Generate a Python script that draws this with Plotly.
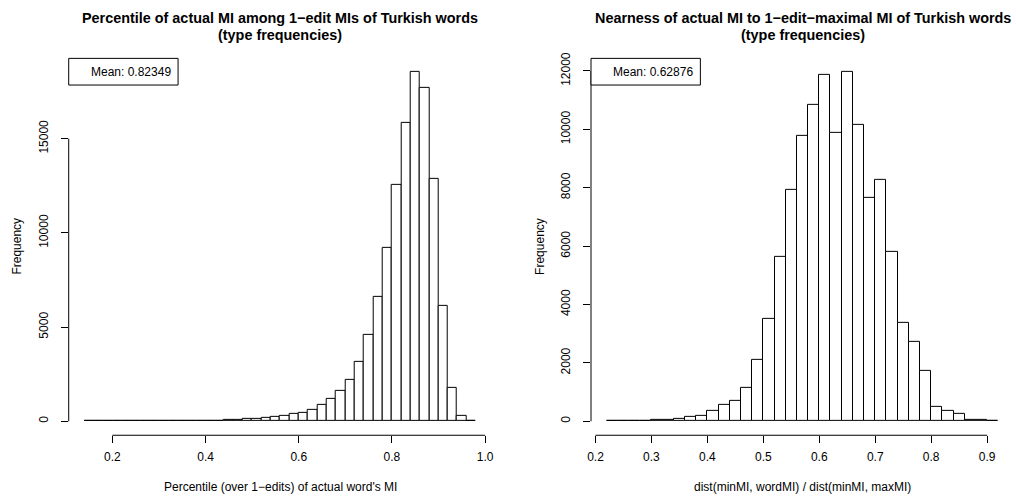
import plotly.graph_objects as go

# ---------------- data ----------------
BIN_WIDTH = 0.02

left_bin_starts = [0.14, 0.16, 0.18, 0.20, 0.22, 0.24, 0.26, 0.28, 0.30, 0.32,
                   0.34, 0.36, 0.38, 0.40, 0.42, 0.44, 0.46, 0.48, 0.50, 0.52,
                   0.54, 0.56, 0.58, 0.60, 0.62, 0.64, 0.66, 0.68, 0.70, 0.72,
                   0.74, 0.76, 0.78, 0.80, 0.82, 0.84, 0.86, 0.88, 0.90, 0.92,
                   0.94, 0.96]
left_counts = [1, 2, 3, 4, 5, 7, 9, 12, 15, 18,
               22, 27, 33, 40, 45, 58, 75, 105, 140, 190,
               210, 295, 370, 460, 600, 880, 1200, 1640, 2200, 3130,
               4590, 6620, 9220, 12540, 15820, 18550, 17700, 12850, 6120, 1760,
               300, 8]

right_bin_starts = [0.22, 0.24, 0.26, 0.28, 0.30, 0.32, 0.34, 0.36, 0.38, 0.40,
                    0.42, 0.44, 0.46, 0.48, 0.50, 0.52, 0.54, 0.56, 0.58, 0.60,
                    0.62, 0.64, 0.66, 0.68, 0.70, 0.72, 0.74, 0.76, 0.78, 0.80,
                    0.82, 0.84, 0.86, 0.88, 0.90]
right_counts = [2, 5, 10, 20, 35, 45, 70, 135, 200, 350,
                550, 710, 1150, 2090, 3500, 5630, 7920, 9790, 10840, 11850,
                9890, 11970, 10160, 7640, 8280, 5800, 3370, 2730, 1740, 510,
                340, 270, 45, 35, 10]

left_xticks = [0.2, 0.4, 0.6, 0.8, 1.0]
left_xtick_labels = ["0.2", "0.4", "0.6", "0.8", "1.0"]
left_yticks = [0, 5000, 10000, 15000]
left_ytick_labels = ["0", "5000", "10000", "15000"]

right_xticks = [0.2, 0.3, 0.4, 0.5, 0.6, 0.7, 0.8, 0.9]
right_xtick_labels = ["0.2", "0.3", "0.4", "0.5", "0.6", "0.7", "0.8", "0.9"]
right_yticks = [0, 2000, 4000, 6000, 8000, 10000, 12000]
right_ytick_labels = ["0", "2000", "4000", "6000", "8000", "10000", "12000"]

left_title = ["Percentile of actual MI among 1\u2212edit MIs of Turkish words",
              "(type frequencies)"]
right_title = ["Nearness of actual MI to 1\u2212edit\u2212maximal MI of Turkish words",
               "(type frequencies)"]
left_xlabel = "Percentile (over 1\u2212edits) of actual word's MI"
right_xlabel = "dist(minMI, wordMI) / dist(minMI, maxMI)"
ylabel = "Frequency"
left_legend = "Mean: 0.82349"
right_legend = "Mean: 0.62876"

# ---------------- layout constants ----------------
W, H = 1016, 497
FONT = "Liberation Sans, Arial, Helvetica, sans-serif"
PLOT_TOP, PLOT_BOTTOM = 52.5, 434.5
LEFT_X0, LEFT_X1 = 65.1, 490.4
RIGHT_X0, RIGHT_X1 = 590.5, 1016.0


def px(x):
    return x / W


def py(y):
    return (H - y) / H


def centers(starts):
    return [s + BIN_WIDTH / 2 for s in starts]


def ext_range(lo, hi):
    d = (hi - lo) * 0.04
    return [lo - d, hi + d]


fig = go.Figure()
bar_style = dict(color="white", line=dict(color="black", width=1))
fig.add_trace(go.Bar(x=centers(left_bin_starts), y=left_counts, width=BIN_WIDTH,
                     marker=bar_style, xaxis="x", yaxis="y", showlegend=False))
fig.add_trace(go.Bar(x=centers(right_bin_starts), y=right_counts, width=BIN_WIDTH,
                     marker=bar_style, xaxis="x2", yaxis="y2", showlegend=False))

axis_common = dict(showgrid=False, zeroline=False, showline=False, ticks="outside",
                   ticklen=7, tickwidth=1, tickcolor="black",
                   tickfont=dict(family=FONT, size=12, color="black"))

ydom = [py(PLOT_BOTTOM), py(PLOT_TOP)]
fig.update_layout(
    width=W, height=H,
    margin=dict(l=0, r=0, t=0, b=0),
    paper_bgcolor="white", plot_bgcolor="white",
    bargap=0,
    xaxis=dict(domain=[px(LEFT_X0), px(LEFT_X1)], anchor="y",
               range=ext_range(left_bin_starts[0], left_bin_starts[-1] + BIN_WIDTH),
               tickvals=left_xticks, ticktext=left_xtick_labels,
               ticklabelstandoff=3, **axis_common),
    yaxis=dict(domain=ydom, anchor="x",
               range=ext_range(0, max(left_counts)),
               tickvals=left_yticks, ticktext=left_ytick_labels, tickangle=-90,
               ticklabelstandoff=8, **axis_common),
    xaxis2=dict(domain=[px(RIGHT_X0), px(RIGHT_X1)], anchor="y2",
                range=ext_range(right_bin_starts[0], right_bin_starts[-1] + BIN_WIDTH),
                tickvals=right_xticks, ticktext=right_xtick_labels,
                ticklabelstandoff=3, **axis_common),
    yaxis2=dict(domain=ydom, anchor="x2",
                range=ext_range(0, max(right_counts)),
                tickvals=right_yticks, ticktext=right_ytick_labels, tickangle=-90,
                ticklabelstandoff=8, **axis_common),
)

line = dict(color="black", width=1)
# R-style axis lines spanning first to last tick
for xa, ya, xt, yt in (("x", "y", left_xticks, left_yticks),
                       ("x2", "y2", right_xticks, right_yticks)):
    fig.add_shape(type="line", xref=xa, yref=ya + " domain", x0=xt[0], x1=xt[-1],
                  y0=0, y1=0, line=line)
    fig.add_shape(type="line", xref=xa + " domain", yref=ya, x0=0, x1=0,
                  y0=yt[0], y1=yt[-1], line=line)

# legend boxes
for x0, text in ((LEFT_X0, left_legend), (RIGHT_X0, right_legend)):
    fig.add_shape(type="rect", xref="paper", yref="paper",
                  x0=px(x0), x1=px(x0 + 110), y0=py(80), y1=py(PLOT_TOP + 0.5),
                  line=line, fillcolor="white")
    fig.add_annotation(x=px(x0 + 105), y=py(67), xref="paper", yref="paper",
                       text=text, showarrow=False, xanchor="right", yanchor="middle",
                       font=dict(family=FONT, size=12, color="black"))

# titles and axis labels
for x0, x1, title, xlabel in ((LEFT_X0, LEFT_X1, left_title, left_xlabel),
                              (RIGHT_X0, RIGHT_X1, right_title, right_xlabel)):
    cx = px((x0 + x1) / 2)
    for i, t in enumerate(title):
        fig.add_annotation(x=cx, y=py(12 + 17 * i), xref="paper", yref="paper",
                           text="<b>" + t + "</b>", showarrow=False,
                           xanchor="center", yanchor="middle",
                           font=dict(family=FONT, size=14.4, color="black"))
    fig.add_annotation(x=cx, y=py(487), xref="paper", yref="paper", text=xlabel,
                       showarrow=False, xanchor="center", yanchor="middle",
                       font=dict(family=FONT, size=12, color="black"))
    fig.add_annotation(x=px(x0 - 52), y=py((PLOT_TOP + PLOT_BOTTOM) / 2),
                       xref="paper", yref="paper", text=ylabel, textangle=-90,
                       showarrow=False, xanchor="center", yanchor="middle",
                       font=dict(family=FONT, size=12, color="black"))

fig.write_html("out.html")
